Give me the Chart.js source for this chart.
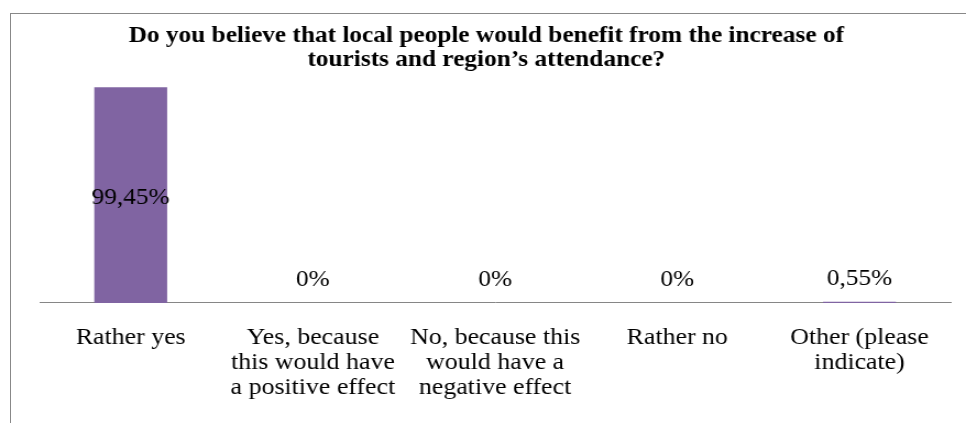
<!DOCTYPE html>
<html>
<head>
<meta charset="utf-8">
<script src="https://cdn.jsdelivr.net/npm/chart.js@4.4.1/dist/chart.umd.min.js"></script>
<style>
    html, body { margin: 0; padding: 0; background: #fff; overflow: hidden; }
    #wrap { position: relative; width: 966px; height: 423px; overflow: hidden; }
    #frame { position: absolute; left: 10px; top: 13px; width: 1000px; height: 500px;
             border-left: 1px solid #888; border-top: 1px solid #888; }
    #surveyChart { position: absolute; left: 0; top: 0; }
</style>
</head>
<body>
<div id="wrap">
    <div id="frame"></div>
    <!-- the source picture is a bit stretched sideways, so the canvas is drawn narrower and scaled up -->
    <canvas id="surveyChart" width="878" height="423" style="width:966px;height:423px"></canvas>
</div>
<script>
const titleLines = [
    'Do you believe that local people would benefit from the increase of',
    'tourists and region\u2019s attendance?'
];
const categories = [
    ['Rather yes'],
    ['Yes, because', 'this would have', 'a positive effect'],
    ['No, because this', 'would have a', 'negative effect'],
    ['Rather no'],
    ['Other (please', 'indicate)']
];
const percentages = [99.45, 0, 0, 0, 0.55];

const serif = '"Liberation Serif", "Times New Roman", serif';

function formatPct(v) {
    if (v === 0) return '0%';
    return v.toFixed(2).replace('.', ',') + '%';
}

// value labels: inside the bar when it is tall, just above it otherwise
const barLabels = {
    id: 'barLabels',
    afterDatasetsDraw(chart) {
        const ctx = chart.ctx;
        const meta = chart.getDatasetMeta(0);
        ctx.save();
        ctx.font = '23px ' + serif;
        ctx.fillStyle = '#000';
        ctx.textAlign = 'center';
        ctx.textBaseline = 'middle';
        meta.data.forEach((bar, i) => {
            const h = bar.base - bar.y;
            const y = h > 40 ? bar.y + h / 2 + 3 : bar.y - 23;
            ctx.fillText(formatPct(percentages[i]), bar.x, y);
        });
        ctx.restore();
    }
};

const ctx = document.getElementById('surveyChart').getContext('2d');

new Chart(ctx, {
    type: 'bar',
    data: {
        labels: categories,
        datasets: [{
            data: percentages,
            backgroundColor: '#8064A2',
            borderWidth: 0,
            barPercentage: 0.4,
            categoryPercentage: 1.0
        }]
    },
    options: {
        responsive: false,
        animation: false,
        layout: {
            padding: { left: 20, right: 14, top: 0, bottom: 1 }
        },
        scales: {
            x: {
                grid: { display: false, drawTicks: false },
                border: { display: true, color: '#868686', width: 1 },
                ticks: {
                    color: '#000',
                    font: { family: serif, size: 23.5, lineHeight: 1.064 },
                    padding: 22,
                    autoSkip: false,
                    maxRotation: 0,
                    minRotation: 0
                }
            },
            y: {
                min: 0,
                max: 100,
                grid: { display: false, drawTicks: false },
                border: { display: false },
                ticks: { display: false },
                afterFit: scale => { scale.width = 16; }
            }
        },
        plugins: {
            legend: { display: false },
            tooltip: { enabled: false },
            title: {
                display: true,
                text: titleLines,
                color: '#000',
                font: { family: serif, size: 23, weight: 'bold', lineHeight: 1.043 },
                padding: { top: 24, bottom: 14 }
            }
        }
    },
    plugins: [barLabels]
});
</script>
</body>
</html>
